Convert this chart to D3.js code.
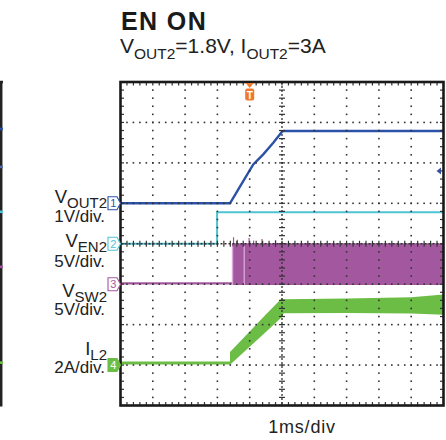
<!DOCTYPE html>
<html>
<head>
<meta charset="utf-8">
<script src="https://cdn.jsdelivr.net/npm/d3@7"></script>
<style>
  body { margin: 0; background: #fff; }
  svg { display: block; font-family: "Liberation Sans", Arial, Helvetica, sans-serif; }
</style>
</head>
<body>
<svg id="chart" width="446" height="440"></svg>
<script>
// time base 1ms/div, 10 divisions, 8 vertical divisions
const timeDomain = [0, 10];
const divDomain = [0, 8];

// channel settings
const chMain = ["V", "V", "V", "I"];
const chSubs = ["OUT2", "EN2", "SW2", "L2"];
const chUnits = ["1V/div.", "5V/div.", "5V/div.", "2A/div."];
const chNumbers = ["1", "2", "3", "4"];
const chPerDiv = [1, 5, 5, 2];
const chOffsets = [5, 4, 3, 1];
const chColors = ["#2b52a6", "#4fc3d3", "#a3579f", "#6cbd45"];

// VOUT2 (V)
const voutTime = [0, 3.39, 3.8, 4.11, 4.42, 4.73, 5.0, 5.05, 10];
const voutVal = [0, 0, 0.55, 0.96, 1.21, 1.5, 1.77, 1.79, 1.79];

// VEN2 (V)
const enTime = [0, 2.99, 2.99, 10];
const enVal = [0, 0, 3.9, 3.9];

// VSW2 (V)
const swBaseTime = [0, 3.45];
const swBaseVal = [0.1, 0.1];
const swBandTime = [3.45, 10];
const swLow = [-0.1, -0.1];
const swHigh = [5.05, 5.05];
const swSpikeTime = [3.5, 3.62, 3.98, 4.12, 4.38, 4.8];
const swSpikeVal = [5.8, 5.5, 5.7, 5.4, 5.6, 5.45];
const swGapTime = [3.47, 3.83];

// IL2 (A)
const ilBaseTime = [0, 3.39];
const ilBaseVal = [0.1, 0.1];
const ilTime = [3.39, 4.0, 4.5, 5.0, 5.05, 7.0, 9.0, 10];
const ilMid = [0.33, 1.28, 2.07, 2.85, 2.91, 2.93, 2.95, 2.99];
const ilHalf = [0.32, 0.38, 0.43, 0.47, 0.35, 0.36, 0.4, 0.5];

// trigger
const trigTime = 4.0;
const trigLevel = 0.8; // on channel 1

// right edge of the neighbouring scope picture (levels in divisions)
const neighborLevels = [6.84, 5.9, 4.79, 3.43, 1.06];
const neighborColors = ["#2b52a6", "#5a6aa8", "#4fc3d3", "#a3579f", "#6cbd45"];

// label layout
const labelBase = [203, 247, 297, 355];
const unitBase = [222, 267, 315, 373];

const svg = d3.select("#chart");

const x = d3.scaleLinear().domain(timeDomain).range([120.5, 443.5]);
const yDiv = d3.scaleLinear().domain(divDomain).range([405.5, 82]);
const chY = (i, v) => yDiv(chOffsets[i] + v / chPerDiv[i]);

// neighbouring frame fragment on the far left
svg.append("line")
    .attr("x1", 1.2).attr("x2", 1.2)
    .attr("y1", yDiv(8) - 1).attr("y2", yDiv(0) + 1)
    .attr("stroke", "#222").attr("stroke-width", 2.5);
svg.append("line")
    .attr("x1", 0).attr("x2", 3)
    .attr("y1", yDiv(8)).attr("y2", yDiv(8))
    .attr("stroke", "#222").attr("stroke-width", 2.5);
neighborLevels.forEach((lv, k) => {
    svg.append("rect")
        .attr("x", 0).attr("y", yDiv(lv) - 1.3)
        .attr("width", 3).attr("height", 2.6)
        .attr("fill", neighborColors[k]);
});

// traces
const line = d3.line().x(d => x(d[0])).y(d => d[1]);
const g = svg.append("g");

// VSW2 band
const swArea = d3.area()
    .x(d => x(d.t))
    .y0(d => chY(2, d.lo))
    .y1(d => chY(2, d.hi));
g.append("path")
    .datum(swBandTime.map((t, k) => ({ t: t, lo: swLow[k], hi: swHigh[k] })))
    .attr("d", swArea)
    .attr("fill", chColors[2]);
swSpikeTime.forEach((t, k) => {
    g.append("line")
        .attr("x1", x(t)).attr("x2", x(t))
        .attr("y1", chY(2, swHigh[0])).attr("y2", chY(2, swSpikeVal[k]))
        .attr("stroke", chColors[2]).attr("stroke-width", 1.2);
});
swGapTime.forEach(t => {
    g.append("line")
        .attr("x1", x(t)).attr("x2", x(t))
        .attr("y1", chY(2, swHigh[0]) + 3).attr("y2", chY(2, swLow[0]))
        .attr("stroke", "#dcaad8").attr("stroke-width", 1.3);
});
g.append("path")
    .datum(swBaseTime.map((t, k) => [t, chY(2, swBaseVal[k])]))
    .attr("d", line)
    .attr("fill", "none").attr("stroke", chColors[2]).attr("stroke-width", 2.2);

// IL2 band
const ilArea = d3.area()
    .x(d => x(d.t))
    .y0(d => chY(3, d.m - d.h))
    .y1(d => chY(3, d.m + d.h));
g.append("path")
    .datum(ilTime.map((t, k) => ({ t: t, m: ilMid[k], h: ilHalf[k] })))
    .attr("d", ilArea)
    .attr("fill", chColors[3]);
g.append("path")
    .datum(ilBaseTime.map((t, k) => [t, chY(3, ilBaseVal[k])]))
    .attr("d", line)
    .attr("fill", "none").attr("stroke", chColors[3]).attr("stroke-width", 3);

// VEN2
g.append("path")
    .datum(enTime.map((t, k) => [t, chY(1, enVal[k])]))
    .attr("d", line)
    .attr("fill", "none").attr("stroke", chColors[1]).attr("stroke-width", 2);

// VOUT2
g.append("path")
    .datum(voutTime.map((t, k) => [t, chY(0, voutVal[k])]))
    .attr("d", line)
    .attr("fill", "none").attr("stroke", chColors[0]).attr("stroke-width", 2.4);

// grid dots
const gridColor = "#333";
const grid = svg.append("g").attr("fill", gridColor);
for (let i = 1; i < 10; i++) {
    if (i === 5) continue;
    for (let j = 1; j < 40; j++) {
        grid.append("rect")
            .attr("x", x(i) - 0.8).attr("y", yDiv(j * 0.2) - 0.8)
            .attr("width", 1.6).attr("height", 1.6);
    }
}
for (let k = 1; k < 8; k++) {
    if (k === 4) continue;
    for (let j = 1; j < 50; j++) {
        grid.append("rect")
            .attr("x", x(j * 0.2) - 0.8).attr("y", yDiv(k) - 0.8)
            .attr("width", 1.6).attr("height", 1.6);
    }
}

// centre cross with ticks
svg.append("line")
    .attr("x1", x(5)).attr("x2", x(5)).attr("y1", yDiv(8)).attr("y2", yDiv(0))
    .attr("stroke", gridColor).attr("stroke-width", 1.3).attr("stroke-dasharray", "2,2");
svg.append("line")
    .attr("x1", x(0)).attr("x2", x(10)).attr("y1", yDiv(4)).attr("y2", yDiv(4))
    .attr("stroke", gridColor).attr("stroke-width", 1.3).attr("stroke-dasharray", "2,2");
const ticks = svg.append("g").attr("stroke", gridColor).attr("stroke-width", 1.2);
for (let j = 1; j < 40; j++) {
    const yy = yDiv(j * 0.2);
    ticks.append("line").attr("x1", x(5) - 3).attr("x2", x(5) + 3).attr("y1", yy).attr("y2", yy);
    ticks.append("line").attr("x1", x(0)).attr("x2", x(0) + 3.5).attr("y1", yy).attr("y2", yy);
    ticks.append("line").attr("x1", x(10) - 3.5).attr("x2", x(10)).attr("y1", yy).attr("y2", yy);
}
for (let j = 1; j < 50; j++) {
    const xx = x(j * 0.2);
    ticks.append("line").attr("x1", xx).attr("x2", xx).attr("y1", yDiv(4) - 3).attr("y2", yDiv(4) + 3);
    ticks.append("line").attr("x1", xx).attr("x2", xx).attr("y1", yDiv(8)).attr("y2", yDiv(8) + 3.5);
    ticks.append("line").attr("x1", xx).attr("x2", xx).attr("y1", yDiv(0) - 3.5).attr("y2", yDiv(0));
}

// frame
svg.append("rect")
    .attr("x", x(0)).attr("y", yDiv(8))
    .attr("width", x(10) - x(0)).attr("height", yDiv(0) - yDiv(8))
    .attr("fill", "none").attr("stroke", "#1a1a1a").attr("stroke-width", 2.6);

// trigger marker (top)
const tx = x(trigTime);
svg.append("path")
    .attr("d", `M${tx - 4},${yDiv(8) + 1}L${tx + 4},${yDiv(8) + 1}L${tx},${yDiv(8) + 6}Z`)
    .attr("fill", "#f07a2c");
svg.append("rect")
    .attr("x", tx - 4.5).attr("y", yDiv(8) + 6.5)
    .attr("width", 9).attr("height", 12).attr("rx", 2)
    .attr("fill", "#f07a2c");
svg.append("text")
    .attr("x", tx).attr("y", yDiv(8) + 16.5)
    .attr("text-anchor", "middle")
    .attr("font-size", 10).attr("font-weight", "bold")
    .attr("fill", "#fff").text("T");

// trigger level marker (right)
const ty = chY(0, trigLevel);
svg.append("path")
    .attr("d", `M${x(10) - 7},${ty}L${x(10) - 2.5},${ty - 3.5}L${x(10) - 2.5},${ty + 3.5}Z`)
    .attr("fill", "#3a4ea0");

// channel markers
chNumbers.forEach((n, i) => {
    const yy = chY(i, 0);
    const x0 = 108;
    const filled = i === 3;
    svg.append("path")
        .attr("d", `M${x0},${yy - 6.5}L${x0 + 9},${yy - 6.5}L${x0 + 12.5},${yy}L${x0 + 9},${yy + 6.5}L${x0},${yy + 6.5}Z`)
        .attr("fill", filled ? chColors[i] : "#fff")
        .attr("stroke", chColors[i]).attr("stroke-width", 1.1);
    svg.append("text")
        .attr("x", x0 + 5.2).attr("y", yy + 4)
        .attr("text-anchor", "middle")
        .attr("font-size", 11)
        .attr("fill", filled ? "#fff" : chColors[i])
        .text(n);
});

// channel labels
chMain.forEach((m, i) => {
    const t = svg.append("text")
        .attr("x", 107).attr("y", labelBase[i])
        .attr("text-anchor", "end")
        .attr("fill", "#222");
    t.append("tspan").attr("font-size", 18.5).text(m);
    t.append("tspan").attr("font-size", 15).attr("dy", 5).text(chSubs[i]);
    svg.append("text")
        .attr("x", 105).attr("y", unitBase[i])
        .attr("text-anchor", "end")
        .attr("font-size", 17)
        .attr("fill", "#222")
        .text(chUnits[i]);
});

// title and subtitle
svg.append("text")
    .attr("x", 121).attr("y", 30)
    .attr("font-size", 25).attr("font-weight", "bold")
    .attr("letter-spacing", 1.4)
    .attr("fill", "#1a1a1a")
    .text("EN ON");

const sub = svg.append("text")
    .attr("x", 120).attr("y", 53)
    .attr("font-size", 21)
    .attr("fill", "#222");
sub.append("tspan").text("V");
sub.append("tspan").attr("font-size", 15.5).attr("dy", 5.5).text("OUT2");
sub.append("tspan").attr("dy", -5.5).text("=1.8V, I");
sub.append("tspan").attr("font-size", 15.5).attr("dy", 5.5).text("OUT2");
sub.append("tspan").attr("dy", -5.5).text("=3A");

// time base label
svg.append("text")
    .attr("x", 302).attr("y", 433)
    .attr("text-anchor", "middle")
    .attr("font-size", 18)
    .attr("letter-spacing", 0.8)
    .attr("fill", "#222")
    .text("1ms/div");
</script>
</body>
</html>
